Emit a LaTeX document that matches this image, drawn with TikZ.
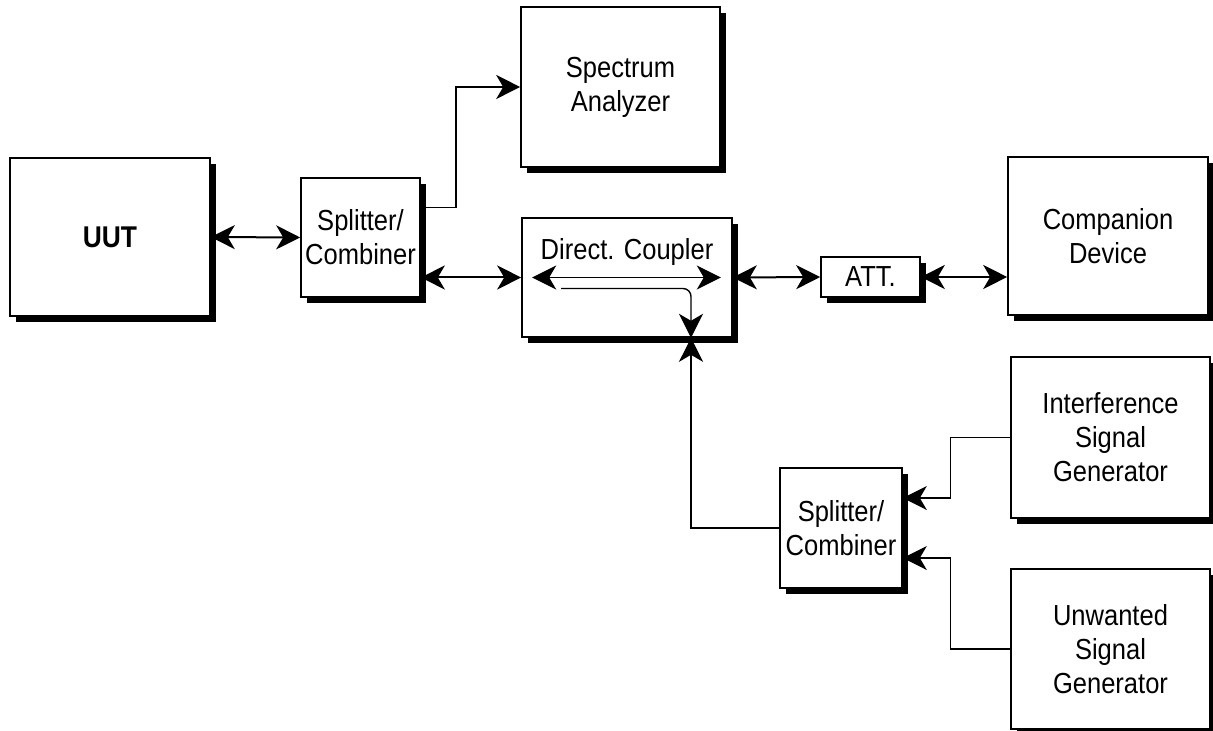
\documentclass[tikz,border=0pt]{standalone}
\usepackage{fontspec}
\setmainfont[FakeStretch=0.88]{Liberation Sans}
\usetikzlibrary{positioning, calc, arrows.meta, shadows}
\tikzset{
    block/.style={rectangle, draw=black, line width=0.8pt, fill=white, align=center, inner sep=0pt,
        font=\fontsize{14.5}{17}\selectfont,
        drop shadow={shadow xshift=3pt, shadow yshift=-3pt, fill=black, opacity=1}},
    lbl/.style={align=center, inner sep=0pt, font=\fontsize{14.5}{17}\selectfont},
    arrow/.style={-{Stealth[length=12pt, width=12pt, inset=3.5pt]}, line width=1pt},
    dblarrow/.style={{Stealth[length=12pt, width=12pt, inset=3.5pt]}-{Stealth[length=12pt, width=12pt, inset=3.5pt]}, line width=1pt},
    thinarrow/.style={arrow, line width=0.7pt},
}
\begin{document}
\begin{tikzpicture}[x=0.5pt, y=-0.5pt]
    \useasboundingbox (0,0) rectangle (1213,731);

    % Blocchi principali
    \node[block, minimum width=100pt, minimum height=79pt, font=\bfseries\fontsize{15}{17}\selectfont] (uut) at (110,237) {UUT};
    \node[block, minimum width=59.5pt, minimum height=59.5pt] (split1) at (360.5,237.5) {Splitter/\\Combiner};
    \node[block, minimum width=99.5pt, minimum height=80pt] (spec) at (620.5,87) {Spectrum\\Analyzer};
    \node[block, minimum width=105pt, minimum height=59.5pt] (coupler) at (627,277.5) {};
    \node[lbl] (cpltext) at ([yshift=12.5pt]coupler.center) {Direct. Coupler};
    \node[block, minimum width=49.5pt, minimum height=20pt] (att) at (870.5,277) {ATT.};
    \node[block, minimum width=100pt, minimum height=79pt] (comp) at (1108,236) {Companion\\Device};

    % Generatori
    \node[block, minimum width=99.5pt, minimum height=80.5pt] (interf) at (1110.5,437.5) {Interference\\Signal\\Generator};
    \node[block, minimum width=99.5pt, minimum height=80pt] (unw) at (1110.5,649) {Unwanted\\Signal\\Generator};
    \node[block, minimum width=61pt, minimum height=60pt] (split2) at (841,528) {Splitter/\\Combiner};

    % Collegamenti
    \draw[dblarrow] (uut.east) -- (split1.west);
    \draw[dblarrow] (split1.east |- coupler.west) -- (coupler.west);
    \draw[arrow, line width=0.8pt] ([yshift=15pt]split1.east) -- ++(35,0) |- (spec.west);
    \draw[dblarrow] (coupler.east) -- (att.west);
    \draw[dblarrow] (att.east) -- (att.east -| comp.west);

    % Interno accoppiatore
    \draw[dblarrow, line width=0.7pt] ([xshift=5.5pt]coupler.west) -- ([xshift=-6pt]coupler.east);
    \draw[thinarrow, rounded corners=4pt] ([xshift=20pt, yshift=-5.5pt]coupler.west) -| ([xshift=32pt]coupler.south);

    % Ramo generatori
    \draw[arrow] (split2.west) -| ([xshift=32pt]coupler.south);
    \draw[thinarrow] (interf.west) -- ++(-60,0) |- ([yshift=15pt]split2.east);
    \draw[thinarrow] (unw.west) -- ++(-60,0) |- ([yshift=-15pt]split2.east);
\end{tikzpicture}
\end{document}
